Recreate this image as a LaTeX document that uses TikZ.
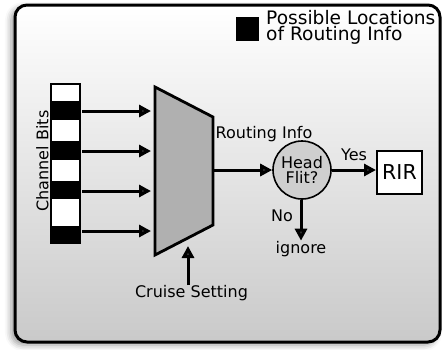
\documentclass[tikz,border=0pt]{standalone}
\usepackage{fontspec}
\setmainfont{DejaVu Sans}
\usetikzlibrary{arrows.meta, shadows.blur, positioning}
\tikzstyle{mainedge}=[-{Triangle[length=12pt,width=12pt]},line width=3pt]
\tikzstyle{bitcell}=[draw=black,line width=1.3pt]
\tikzstyle{label}=[font=\fontsize{16}{15}\selectfont,inner sep=0pt]
\tikzstyle{decision}=[shape=circle,draw=black,line width=1.6pt,fill=black!19,minimum size=58pt,inner sep=0pt,align=center,font=\fontsize{16}{15}\selectfont]
\tikzstyle{unitbox}=[shape=rectangle,draw=black,line width=2pt,fill=white,minimum width=45pt,minimum height=43pt,font=\fontsize{20.5}{20}\selectfont]

\begin{document}
\begin{tikzpicture}[x=1pt,y=-1pt]
\useasboundingbox (0,0) rectangle (443,349);

% frame
\path[draw=black,line width=3pt,rounded corners=12pt,top color=white,bottom color=black!21,
  blur shadow={shadow xshift=-4pt,shadow yshift=-3pt,shadow blur radius=6pt}]
  (15,5) rectangle (440,342);

% legend
\node[fill=black,minimum width=23pt,minimum height=24pt,inner sep=0pt] (key) at (247.5,29) {};
\node[anchor=north west,align=left,inner sep=0pt,font=\fontsize{18.6}{16}\selectfont] (key_txt) at (266,10.5) {Possible Locations\\of Routing Info};

% channel bits column
\foreach \top/\bot/\col in {84/101.5/white,101.5/119/black,119/142/white,142/159/black,
                            159/182/white,182/198.5/black,198.5/226.5/white,226.5/243/black}
  \draw[bitcell,fill=\col] (51,\top) rectangle (80,\bot);
\node[label,rotate=90] (chan_lbl) at (42.5,161) {Channel Bits};

\coordinate (bit1) at (82,111);
\coordinate (bit2) at (82,151);
\coordinate (bit3) at (82,191);
\coordinate (bit4) at (82,231);

% mux
\draw[line width=2.8pt,fill=black!31,line join=miter] (155,87) -- (213,117) -- (213,225) -- (155,255) -- cycle;
\coordinate (mux_in1) at (151,111);
\coordinate (mux_in2) at (151,151);
\coordinate (mux_in3) at (151,191);
\coordinate (mux_in4) at (151,231);
\coordinate (mux_out) at (214,170);
\coordinate (mux_sel) at (188,246);

\draw[mainedge] (bit1) -- (mux_in1);
\draw[mainedge] (bit2) -- (mux_in2);
\draw[mainedge] (bit3) -- (mux_in3);
\draw[mainedge] (bit4) -- (mux_in4);

\node[label,anchor=base] (cruise) at (191.5,297.5) {Cruise Setting};
\draw[mainedge] (cruise.north -| mux_sel) -- (mux_sel);

% head flit check
\node[decision] (head) at (302,170) {Head\\Flit?};
\node[label,anchor=base] (route_lbl) at (264,138) {Routing Info};
\draw[mainedge] (mux_out) -- (head.west);

\node[unitbox] (rir) at (399.5,172.5) {RIR};
\draw[mainedge] (head.east) -- (head.east -| rir.west);
\node[label,anchor=base] (yes_lbl) at (354,160) {Yes};

\node[label,anchor=base] (ignore) at (301,253) {ignore};
\draw[mainedge] (head.south -| ignore) -- (ignore.north);
\node[label,anchor=base] (no_lbl) at (282,221) {No};

\end{tikzpicture}
\end{document}
